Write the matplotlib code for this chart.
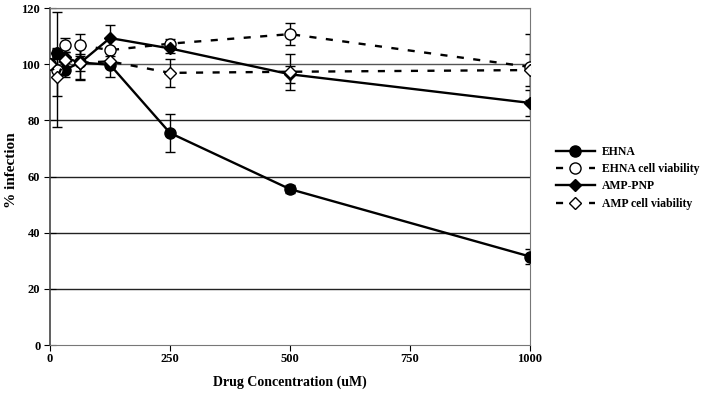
import numpy as np
import matplotlib.pyplot as plt

plt.rcParams['font.family'] = 'Liberation Serif'
plt.rcParams['font.weight'] = 'bold'

conc = [0, 15.6, 31.25, 62.5, 125, 250, 500, 1000]

ehna = [100, 103.8, 98.0, 100.6, 99.8, 75.5, 55.5, 31.5]
ehna_err = [0, 2, 2.5, 6, 4.5, 6.8, 1.5, 2.8]

ehna_via = [100, 98, 106.8, 106.8, 105, 107.3, 110.7, 99]
ehna_via_err = [0, 20.5, 2.6, 4, 4, 1.5, 4, 11.7]

amp = [100, 104, 102.5, 100.4, 109.3, 105.6, 96.4, 86.2]
amp_err = [0, 1.5, 4, 6, 4.5, 1.5, 3, 4.6]

amp_via = [100, 95.5, 101.4, 100.5, 101, 96.9, 97.3, 97.9]
amp_via_err = [0, 7, 3, 3, 2, 5, 6.4, 5.7]

fig = plt.figure(figsize=(7.01, 4.01), dpi=100)
ax = fig.add_axes([50/701, 1-345/401, 480/701, 337/401])

for y in [20, 40, 60, 80, 100, 120]:
    ax.axhline(y, color='#555555' if y in (100, 120) else '#222222', lw=1, zorder=0)

series = [
    (ehna, ehna_err, 'EHNA', '-', 'o', 8, 'black'),
    (ehna_via, ehna_via_err, 'EHNA cell viability', (0, (3, 4)), 'o', 8, 'white'),
    (amp, amp_err, 'AMP-PNP', '-', 'D', 6, 'black'),
    (amp_via, amp_via_err, 'AMP cell viability', (0, (3, 4)), 'D', 6, 'white'),
]

for vals, err, lab, ls, mk, ms, fc in series:
    ax.errorbar(conc, vals, yerr=err, fmt='none', ecolor='black', elinewidth=1,
                capsize=3.5, capthick=1, zorder=2)
    ax.plot(conc, vals, color='black', lw=1.7, ls=ls, marker=mk, markersize=ms,
            mfc=fc, mec='black', label=lab, zorder=3)

ax.set_xlim(0, 1000)
ax.set_ylim(0, 120)
ax.set_xticks([0, 250, 500, 750, 1000])
ax.set_yticks([0, 20, 40, 60, 80, 100, 120])
ax.tick_params(axis='x', direction='out', length=4, pad=1.5, labelsize=9)
ax.tick_params(axis='y', direction='inout', length=8, pad=3, labelsize=9)

for s in ['top', 'right', 'bottom']:
    ax.spines[s].set_color('#777777')
ax.spines['left'].set_color('#444444')
ax.spines['left'].set_linewidth(1.2)

ax.set_xlabel('Drug Concentration (uM)', fontsize=10, fontweight='bold', labelpad=8)
ax.set_ylabel('% infection', fontsize=11, fontweight='bold')
ax.yaxis.set_label_coords(-32/480, 0.52)

leg = ax.legend(loc='upper left', bbox_to_anchor=(551/701, 1-141/401),
                bbox_transform=fig.transFigure, frameon=False, fontsize=8.5,
                handlelength=3.3, handletextpad=0.6, labelspacing=0.45, borderaxespad=0)

fig.savefig('out.png', dpi=100)
